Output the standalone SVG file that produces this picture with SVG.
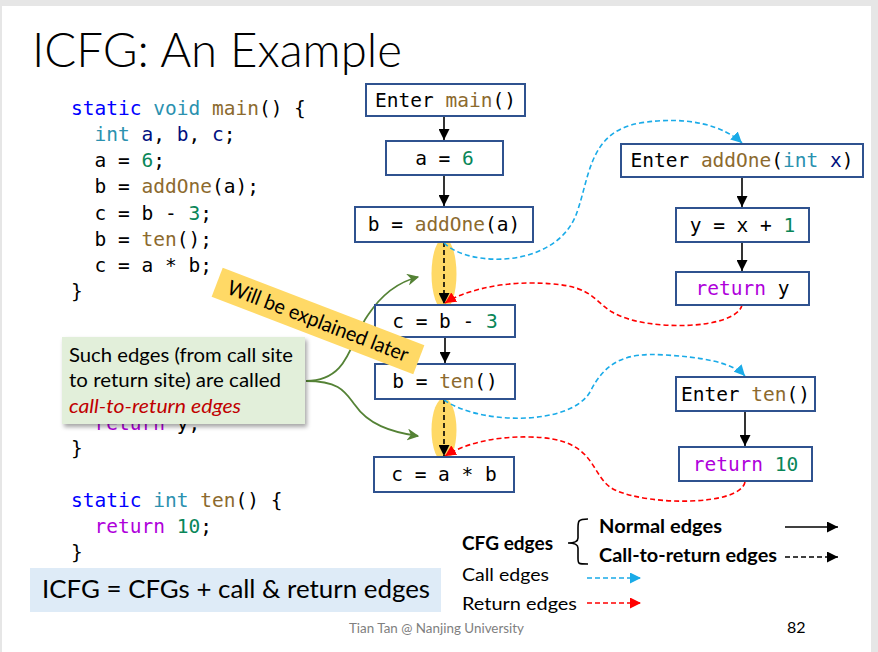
<svg xmlns="http://www.w3.org/2000/svg" width="878" height="652" viewBox="0 0 878 652">
<style>
.code{font-family:"DejaVu Sans Mono","Liberation Mono",monospace;font-size:19.5px;fill:#000}
.kw{fill:#0000FF}.ty{fill:#2B91AF}.fn{fill:#8C6A2E}.nm{fill:#098658}.rt{fill:#AF00DB}.vr{fill:#001080}
.box{fill:#fff;stroke:#2F528F;stroke-width:2}
.sans{font-family:Lato,"Liberation Sans",sans-serif}
.edge{fill:none;stroke:#000;stroke-width:1.6}
.ctr{fill:none;stroke:#000;stroke-width:1.6;stroke-dasharray:5 3}
.call{fill:none;stroke:#1AABE8;stroke-width:1.6;stroke-dasharray:5 3}
.ret{fill:none;stroke:#FF0000;stroke-width:1.6;stroke-dasharray:5 3}
.grn{fill:none;stroke:#548235;stroke-width:1.8}
</style>
<defs>
<marker id="ak" viewBox="0 0 10 10" refX="10" refY="5" markerWidth="11" markerHeight="11" markerUnits="userSpaceOnUse" orient="auto"><path d="M0,0 L10,5 L0,10 z" fill="#000"/></marker>
<marker id="ab" viewBox="0 0 10 10" refX="10" refY="5" markerWidth="11" markerHeight="11" markerUnits="userSpaceOnUse" orient="auto"><path d="M0,0 L10,5 L0,10 z" fill="#1AABE8"/></marker>
<marker id="ar" viewBox="0 0 10 10" refX="10" refY="5" markerWidth="11" markerHeight="11" markerUnits="userSpaceOnUse" orient="auto"><path d="M0,0 L10,5 L0,10 z" fill="#FF0000"/></marker>
<marker id="ag" viewBox="0 0 10 10" refX="9" refY="5" markerWidth="12" markerHeight="12" markerUnits="userSpaceOnUse" orient="auto"><path d="M0,0 L10,5 L0,10 L3,5 z" fill="#548235"/></marker>
<filter id="sh" x="-10%" y="-10%" width="130%" height="140%"><feDropShadow dx="2" dy="3" stdDeviation="2" flood-color="#000" flood-opacity="0.35"/></filter>
</defs>

<rect x="0" y="0" width="878" height="652" fill="#E6E6E6"/>
<rect x="2" y="6" width="869" height="646" fill="#FFFFFF"/>

<text class="sans" x="32" y="67" font-size="47" font-weight="300" textLength="370" lengthAdjust="spacingAndGlyphs">ICFG: An Example</text>

<g id="code">
<text class="code" x="71" y="115"><tspan class="kw">static</tspan> <tspan class="ty">void</tspan> <tspan class="fn">main</tspan>() {</text>
<text class="code" x="94.6" y="141.1"><tspan class="ty">int</tspan> <tspan class="vr">a</tspan>, <tspan class="vr">b</tspan>, <tspan class="vr">c</tspan>;</text>
<text class="code" x="94.6" y="167.3">a = <tspan class="nm">6</tspan>;</text>
<text class="code" x="94.6" y="193.4">b = <tspan class="fn">addOne</tspan>(a);</text>
<text class="code" x="94.6" y="219.5">c = b - <tspan class="nm">3</tspan>;</text>
<text class="code" x="94.6" y="245.7">b = <tspan class="fn">ten</tspan>();</text>
<text class="code" x="94.6" y="271.8">c = a * b;</text>
<text class="code" x="71" y="297.9">}</text>
<text class="code" x="94.6" y="429.5"><tspan class="rt">return</tspan> y;</text>
<text class="code" x="71" y="454.7">}</text>
<text class="code" x="71" y="507"><tspan class="kw">static</tspan> <tspan class="ty">int</tspan> <tspan class="fn">ten</tspan>() {</text>
<text class="code" x="94.6" y="533.1"><tspan class="rt">return</tspan> <tspan class="nm">10</tspan>;</text>
<text class="code" x="71" y="559.2">}</text>
</g>

<g id="highlights">
<ellipse cx="444" cy="274" rx="12.5" ry="36" fill="#FFD966"/>
<ellipse cx="444" cy="430" rx="12.5" ry="32" fill="#FFD966"/>
</g>

<g id="connectors">
<line class="edge" x1="444" y1="116" x2="444" y2="140" marker-end="url(#ak)"/>
<line class="edge" x1="444" y1="175" x2="444" y2="206" marker-end="url(#ak)"/>
<line class="edge" x1="445" y1="337" x2="445" y2="363" marker-end="url(#ak)"/>
<line class="edge" x1="742" y1="177" x2="742" y2="207" marker-end="url(#ak)"/>
<line class="edge" x1="742" y1="242" x2="742" y2="271" marker-end="url(#ak)"/>
<line class="edge" x1="745" y1="411" x2="745" y2="446" marker-end="url(#ak)"/>
<line class="ctr" x1="444" y1="242" x2="444" y2="304" marker-end="url(#ak)"/>
<line class="ctr" x1="444" y1="399" x2="444" y2="456" marker-end="url(#ak)"/>
<path class="call" d="M444,243 C470,268 555,268 576,215 C590,178 588,132 640,123 C690,115 725,127 742,143" marker-end="url(#ab)"/>
<path class="call" d="M444,400 C480,425 570,426 590,392 C605,362 625,352 665,355 C700,357 732,362 745,376" marker-end="url(#ab)"/>
<path class="ret" d="M742,305 C736,330 645,332 612,312 C590,298 592,283 530,283 C495,283 462,292 445,303" marker-end="url(#ar)"/>
<path class="ret" d="M745,482 C740,506 650,506 615,490 C588,477 600,438 530,437 C492,436 462,445 445,456" marker-end="url(#ar)"/>
<path class="grn" d="M306,381 C350,381 350,340 368,315 C382,294 398,282 418,277" marker-end="url(#ag)"/>
<path class="grn" d="M306,381 C340,381 345,392 355,405 C368,424 390,432 418,436" marker-end="url(#ag)"/>
</g>

<g id="n_enter_main"><rect class="box" x="366" y="84" width="159" height="32"/><text class="code" x="445.5" y="106.5" text-anchor="middle">Enter <tspan class="fn">main</tspan>()</text></g>
<g id="n_a6"><rect class="box" x="386" y="141" width="117" height="34"/><text class="code" x="444.5" y="164.5" text-anchor="middle">a = <tspan class="nm">6</tspan></text></g>
<g id="n_call_addone"><rect class="box" x="355" y="207" width="178" height="35"/><text class="code" x="444" y="231" text-anchor="middle">b = <tspan class="fn">addOne</tspan>(a)</text></g>
<g id="n_c_b3"><rect class="box" x="375" y="305" width="140" height="32"/><text class="code" x="445" y="327.5" text-anchor="middle">c = b - <tspan class="nm">3</tspan></text></g>
<g id="n_call_ten"><rect class="box" x="375" y="364" width="140" height="35"/><text class="code" x="445" y="388" text-anchor="middle">b = <tspan class="fn">ten</tspan>()</text></g>
<g id="n_c_ab"><rect class="box" x="374" y="457" width="140" height="35"/><text class="code" x="444" y="481" text-anchor="middle">c = a * b</text></g>
<g id="n_enter_addone"><rect class="box" x="621" y="144" width="242" height="33"/><text class="code" x="742" y="167" text-anchor="middle">Enter <tspan class="fn">addOne</tspan>(<tspan class="ty">int</tspan> <tspan class="vr">x</tspan>)</text></g>
<g id="n_y_x1"><rect class="box" x="676" y="208" width="133" height="34"/><text class="code" x="742.5" y="231.5" text-anchor="middle">y = x + <tspan class="nm">1</tspan></text></g>
<g id="n_ret_y"><rect class="box" x="676" y="272" width="133" height="33"/><text class="code" x="742.5" y="295" text-anchor="middle"><tspan class="rt">return</tspan> y</text></g>
<g id="n_enter_ten"><rect class="box" x="676" y="377" width="139" height="34"/><text class="code" x="745.5" y="400.5" text-anchor="middle">Enter <tspan class="fn">ten</tspan>()</text></g>
<g id="n_ret10"><rect class="box" x="679" y="447" width="133" height="34"/><text class="code" x="745.5" y="470.5" text-anchor="middle"><tspan class="rt">return</tspan> <tspan class="nm">10</tspan></text></g>

<g id="callout">
<rect x="62" y="337" width="243" height="87" fill="#E2EFDA" filter="url(#sh)"/>
<text class="sans" x="69" y="362" font-size="19" textLength="224" lengthAdjust="spacingAndGlyphs">Such edges (from call site</text>
<text class="sans" x="69" y="387" font-size="19" textLength="212" lengthAdjust="spacingAndGlyphs">to return site) are called</text>
<text class="sans" x="69" y="413" font-size="19" font-style="italic" fill="#C00000" textLength="172" lengthAdjust="spacingAndGlyphs">call-to-return edges</text>
</g>

<g id="banner" transform="translate(318,321) rotate(21)">
<rect x="-108" y="-15.5" width="216" height="31" fill="#FFD966"/>
<text class="sans" x="0" y="7" font-size="20.5" text-anchor="middle" textLength="192" lengthAdjust="spacingAndGlyphs">Will be explained later</text>
</g>

<g id="summary">
<rect x="30" y="568" width="411" height="44" fill="#DEEBF7"/>
<text class="sans" x="42" y="598" font-size="25" textLength="388" lengthAdjust="spacingAndGlyphs">ICFG = CFGs + call &amp; return edges</text>
</g>

<g id="legend">
<text class="sans" x="462" y="550" font-size="18" font-weight="bold" textLength="91" lengthAdjust="spacingAndGlyphs">CFG edges</text>
<path d="M588,519 C578,519 578,521 578,528 L578,538 C578,542 574,543 568,543 C574,543 578,544 578,548 L578,558 C578,564 578,564 588,564" fill="none" stroke="#000" stroke-width="1.6"/>
<text class="sans" x="599" y="533" font-size="18" font-weight="bold" textLength="123" lengthAdjust="spacingAndGlyphs">Normal edges</text>
<text class="sans" x="599" y="562" font-size="18" font-weight="bold" textLength="178" lengthAdjust="spacingAndGlyphs">Call-to-return edges</text>
<line class="edge" x1="785" y1="527" x2="838" y2="527" marker-end="url(#ak)"/>
<line class="ctr" x1="785" y1="557" x2="838" y2="557" marker-end="url(#ak)"/>
<text class="sans" x="462" y="581" font-size="18" textLength="87" lengthAdjust="spacingAndGlyphs">Call edges</text>
<line class="call" x1="587" y1="578" x2="641" y2="578" marker-end="url(#ab)"/>
<text class="sans" x="462" y="610" font-size="18" textLength="115" lengthAdjust="spacingAndGlyphs">Return edges</text>
<line class="ret" x1="587" y1="603" x2="641" y2="603" marker-end="url(#ar)"/>
</g>

<text class="sans" x="349" y="633" font-size="12.5" fill="#808080" textLength="175" lengthAdjust="spacingAndGlyphs">Tian Tan @ Nanjing University</text>
<text class="sans" x="787" y="633" font-size="16">82</text>
</svg>
